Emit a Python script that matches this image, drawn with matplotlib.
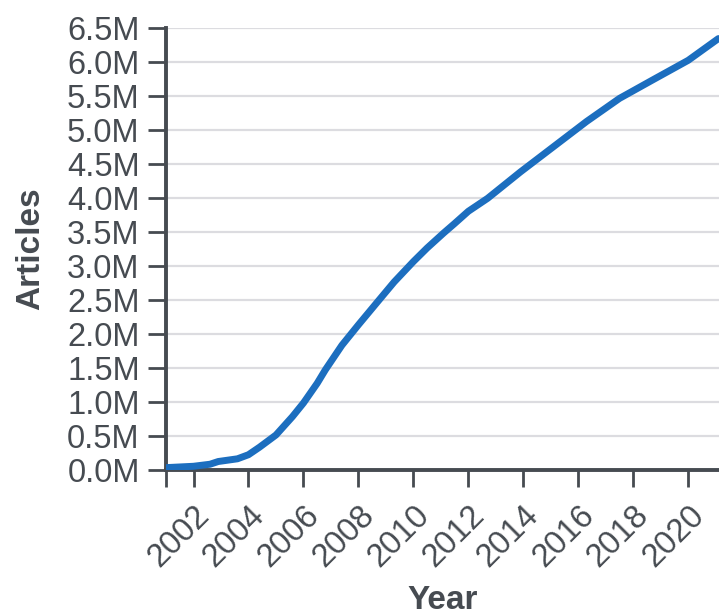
"""Growth of article count over the years"""

import matplotlib
matplotlib.use("Agg")
import matplotlib.pyplot as plt
from matplotlib.ticker import FuncFormatter

# values (year, millions of articles)
years = [2001.0, 2002.0, 2002.6, 2002.9, 2003.6, 2004.0, 2004.4, 2005.0, 2005.6,
         2006.0, 2006.5, 2006.8, 2007.4, 2008.0, 2008.7, 2009.3, 2010.0, 2010.5,
         2011.1, 2011.5, 2012.0, 2012.7, 2013.9, 2015.1, 2016.3, 2017.5, 2018.7,
         2020.0, 2021.1]
articles_m = [0.03, 0.05, 0.08, 0.12, 0.16, 0.22, 0.33, 0.51, 0.78,
              0.98, 1.27, 1.47, 1.83, 2.13, 2.47, 2.76, 3.06, 3.26,
              3.48, 3.62, 3.80, 3.99, 4.38, 4.75, 5.12, 5.46, 5.73,
              6.02, 6.34]
articles = [v * 1e6 for v in articles_m]

year_ticks = list(range(2002, 2021, 2))
y_ticks = [i * 0.5e6 for i in range(14)]

dark = "#464b51"
plt.rcParams["font.family"] = ["Liberation Sans", "DejaVu Sans"]

fig = plt.figure(figsize=(7.19, 6.15), dpi=100)
ax = fig.add_axes([0.2309, 0.2363, 0.7691, 0.7187])

ax.plot(years, articles, color="#1c6ebf", linewidth=5, solid_capstyle="round",
        solid_joinstyle="round", zorder=3)

ax.set_xlim(2001.0, 2021.12)
ax.set_ylim(0, 6.5e6)

ax.set_yticks(y_ticks)
ax.yaxis.set_major_formatter(FuncFormatter(lambda v, p: "{:.1f}M".format(v / 1e6)))
# extra unlabeled tick at the axis start to extend the spine downward
ax.set_xticks([2001.0] + year_ticks, labels=[""] + [str(y) for y in year_ticks])

ax.grid(axis="y", color="#dcdce0", linewidth=1.6, zorder=0)
ax.set_axisbelow(True)

for side in ["top", "right"]:
    ax.spines[side].set_visible(False)
for side in ["left", "bottom"]:
    ax.spines[side].set_color(dark)
    ax.spines[side].set_linewidth(2.8)

ax.tick_params(axis="y", length=13, width=2, color=dark, labelcolor=dark,
               labelsize=23.5, pad=6)
ax.tick_params(axis="x", length=12.5, width=2, color=dark, labelcolor=dark,
               labelsize=23.5, pad=9)
for lab in ax.get_xticklabels():
    lab.set_rotation(45)
    lab.set_ha("right")
    lab.set_va("top")
    lab.set_rotation_mode("anchor")

ax.set_ylabel("Articles", fontsize=24, fontweight="bold", color=dark, labelpad=15)
ax.set_xlabel("Year", fontsize=24, fontweight="bold", color=dark, labelpad=9)

fig.savefig("out.png", dpi=100, facecolor="white")
